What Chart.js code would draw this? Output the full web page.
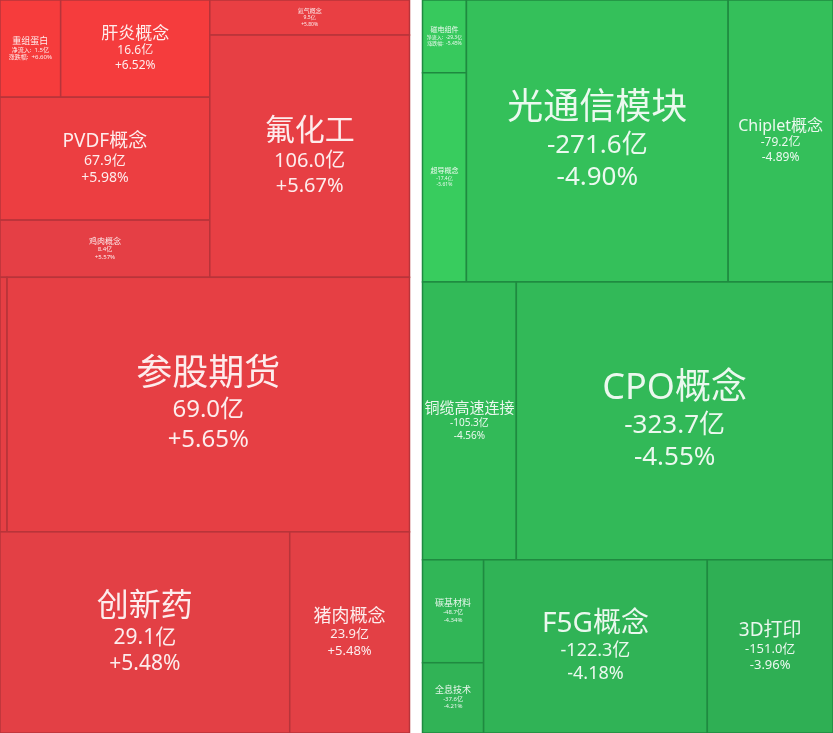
<!DOCTYPE html>
<html>
<head>
<meta charset="utf-8">
<script src="https://cdn.jsdelivr.net/npm/chart.js@4.4.1/dist/chart.umd.min.js"></script>
<style>
  html, body { margin: 0; padding: 0; background: #fff; }
  #wrap { width: 833px; height: 733px; }
</style>
</head>
<body>
<div id="wrap"><canvas id="chart"></canvas></div>
<script>
// 涨幅板块 (red side)
const upNames = ['重组蛋白', '肝炎概念', 'PVDF概念', '鸡肉概念', '氦气概念', '氟化工', '合成生物', '参股期货', '创新药', '猪肉概念'];
const upFlow = [1.5, 16.6, 67.9, 8.4, 9.5, 106.0, 2.1, 69.0, 29.1, 23.9];
const upPct = [6.60, 6.52, 5.98, 5.57, 5.80, 5.67, 5.66, 5.65, 5.48, 5.48];
const upSize = [59, 145, 258, 120, 70, 484, 18, 1025, 583, 241];

// 跌幅板块 (green side)
const downNames = ['磁电组件', '超导概念', '光通信模块', 'Chiplet概念', '铜缆高速连接', 'CPO概念', '碳基材料', '全息技术', 'F5G概念', '3D打印'];
const downFlow = [-29.3, -17.4, -271.6, -79.2, -105.3, -323.7, -48.7, -37.6, -122.3, -151.0];
const downPct = [-5.45, -5.61, -4.90, -4.89, -4.56, -4.55, -4.34, -4.21, -4.18, -3.96];
const downSize = [32, 92, 739, 296, 261, 881, 63, 43, 388, 218];

// how the cells nest: 'v' stacks children top to bottom, 'h' puts them side by side
const upTree = ['v', ['h', ['v', ['h', 0, 1], 2, 3], ['v', 4, 5]], ['h', 6, 7], ['h', 8, 9]];
const downTree = ['v', ['h', ['v', 0, 1], 2, 3], ['h', 4, 5], ['h', ['v', 6, 7], 8, 9]];

// label sizes (style only)
const upTitleFont = [9, 17, 19, 8, 6, 30, 0, 36, 32, 18];
const upSubFont = [6, 12, 14, 6, 5, 20, 0, 24, 21, 13];
const downTitleFont = [7, 7, 36, 16, 15, 36, 9, 9, 28, 19];
const downSubFont = [5, 5, 26, 12, 10, 26, 6, 6, 18, 13];
const upKeyed = [0];
const downKeyed = [0];

const FONT = '"Noto Sans", "Noto Sans CJK SC", sans-serif';

const weight = (node, sizes) => (Array.isArray(node)
  ? node.slice(1).reduce((s, n) => s + weight(n, sizes), 0)
  : sizes[node]);

const layout = (node, sizes, box, out) => {
  if (!Array.isArray(node)) {
    out[node] = box;
    return out;
  }
  const dir = node[0];
  const kids = node.slice(1);
  const total = weight(node, sizes);
  let pos = dir === 'v' ? box.y0 : box.x0;
  kids.forEach((k) => {
    const share = weight(k, sizes) / total;
    if (dir === 'v') {
      const h = (box.y1 - box.y0) * share;
      layout(k, sizes, { x0: box.x0, x1: box.x1, y0: pos, y1: pos + h }, out);
      pos += h;
    } else {
      const w = (box.x1 - box.x0) * share;
      layout(k, sizes, { x0: pos, x1: pos + w, y0: box.y0, y1: box.y1 }, out);
      pos += w;
    }
  });
  return out;
};

const mix = (a, b, t) => {
  const c = Math.max(0, Math.min(1, t));
  return `rgb(${a.map((v, i) => Math.round(v + (b[i] - v) * c)).join(',')})`;
};
const redFill = (p) => mix([226, 64, 70], [246, 60, 60], (p - 5.4) / 1.2);
const greenFill = (p) => mix([47, 174, 84], [56, 204, 94], (-p - 3.9) / 1.7);

const fmtFlow = (v) => `${v.toFixed(1)}亿`;
const fmtPct = (v) => `${v > 0 ? '+' : ''}${v.toFixed(2)}%`;

const panels = [
  {
    names: upNames, flow: upFlow, pct: upPct, sizes: upSize, tree: upTree,
    titleFont: upTitleFont, subFont: upSubFont, keyed: upKeyed,
    box: { x0: 0, x1: 409.5, y0: 0, y1: 733 }, fill: redFill, line: '#b8343a',
  },
  {
    names: downNames, flow: downFlow, pct: downPct, sizes: downSize, tree: downTree,
    titleFont: downTitleFont, subFont: downSubFont, keyed: downKeyed,
    box: { x0: 422.5, x1: 833, y0: 0, y1: 733 }, fill: greenFill, line: '#1f8a40',
  },
];
panels.forEach((p) => { p.cells = layout(p.tree, p.sizes, p.box, []); });

const treemapPlugin = {
  id: 'treemapCells',
  beforeDatasetsDraw(chart) {
    const { ctx, scales: { x, y } } = chart;
    panels.forEach((p) => {
      p.cells.forEach((c, i) => {
        const px0 = x.getPixelForValue(c.x0);
        const px1 = x.getPixelForValue(c.x1);
        const py0 = y.getPixelForValue(c.y0);
        const py1 = y.getPixelForValue(c.y1);
        ctx.fillStyle = p.fill(p.pct[i]);
        ctx.fillRect(px0, py0, px1 - px0, py1 - py0);
        ctx.strokeStyle = p.line;
        ctx.lineWidth = 1.5;
        ctx.strokeRect(px0, py0, px1 - px0, py1 - py0);

        const s = p.titleFont[i];
        const v = p.subFont[i];
        if (!s) return;
        const keyed = p.keyed.includes(i);
        const gap1 = (s + v) / 2 + 0.15 * s;
        const gap2 = 1.25 * v;
        const cx = (px0 + px1) / 2;
        const cy = (py0 + py1) / 2;
        const top = cy - (s / 2 + gap1 + gap2 + v / 2) / 2;
        const t1 = top + s / 2;
        ctx.fillStyle = 'rgba(255,255,255,0.9)';
        ctx.textAlign = 'center';
        ctx.textBaseline = 'middle';
        ctx.font = `${s}px ${FONT}`;
        ctx.fillText(p.names[i], cx, t1);
        ctx.font = `${v}px ${FONT}`;
        const l2 = keyed ? `净流入:  ${fmtFlow(p.flow[i])}` : fmtFlow(p.flow[i]);
        const l3 = keyed ? `涨跌幅:  ${fmtPct(p.pct[i])}` : fmtPct(p.pct[i]);
        ctx.fillText(l2, cx, t1 + gap1);
        ctx.fillText(l3, cx, t1 + gap1 + gap2);
      });
    });
  },
};

const centers = panels.flatMap((p) => p.cells.map((c) => ({ x: (c.x0 + c.x1) / 2, y: (c.y0 + c.y1) / 2 })));

const canvas = document.querySelector('#chart');
new Chart(canvas, {
  type: 'scatter',
  data: {
    datasets: [{
      data: centers,
      pointRadius: 0,
      pointHoverRadius: 0,
    }],
  },
  options: {
    responsive: true,
    maintainAspectRatio: false,
    animation: false,
    events: [],
    layout: { padding: 0 },
    plugins: {
      legend: { display: false },
      tooltip: { enabled: false },
    },
    scales: {
      x: { type: 'linear', min: 0, max: 833, display: false },
      y: { type: 'linear', min: 0, max: 733, reverse: true, display: false },
    },
  },
  plugins: [treemapPlugin],
});
</script>
</body>
</html>
